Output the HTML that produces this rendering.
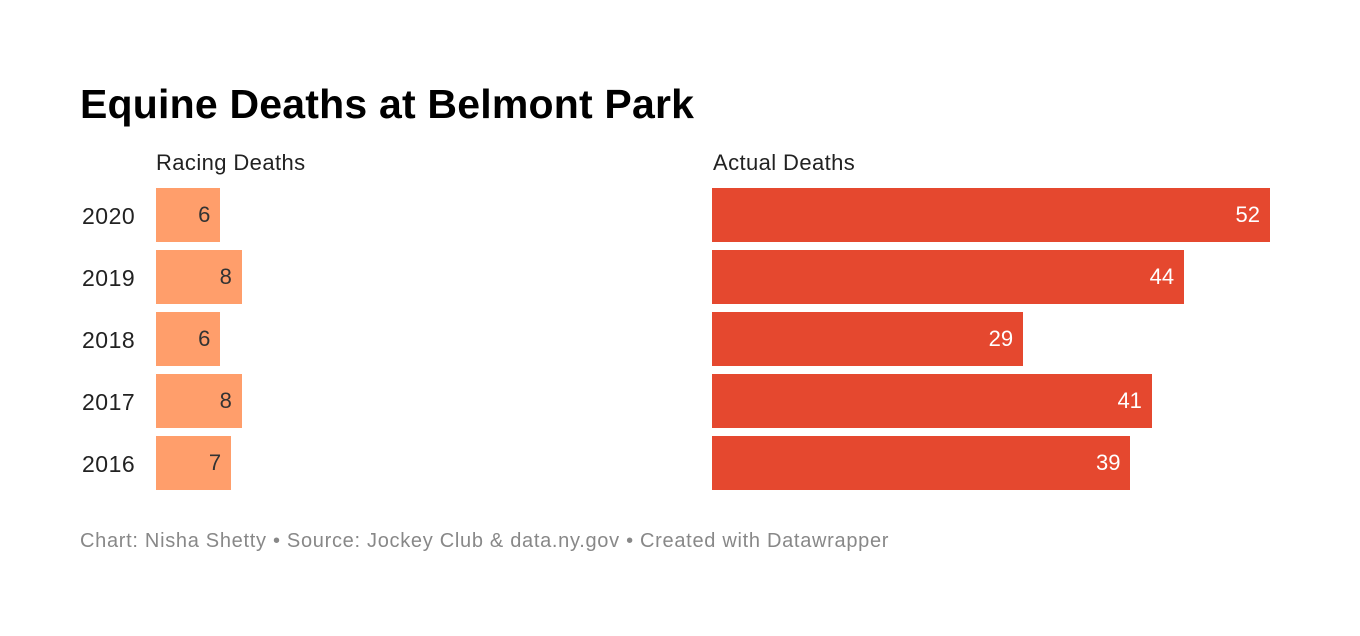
<!DOCTYPE html>
<html><head><meta charset="utf-8">
<style>
body{margin:0;width:1360px;height:636px;background:#fff;font-family:"Liberation Sans",sans-serif;position:relative;overflow:hidden}
.t{position:absolute;white-space:nowrap}
</style></head>
<body>
<div class="t" style="left:80px;top:81px;font-size:41px;font-weight:bold;color:#000;letter-spacing:0.2px">Equine Deaths at Belmont Park</div>
<div class="t" style="left:156px;top:150px;font-size:22px;color:#222;letter-spacing:0.4px">Racing Deaths</div>
<div class="t" style="left:713px;top:150px;font-size:22px;color:#222;letter-spacing:0.4px">Actual Deaths</div>
<div id="chart"></div>
<div class="t" style="left:80px;top:530px;font-size:20px;color:#888;letter-spacing:0.7px">Chart: Nisha Shetty • Source: Jockey Club &amp; data.ny.gov • Created with Datawrapper</div>
<script>
const years=["2020","2019","2018","2017","2016"];
const racing=[6,8,6,8,7];
const actual=[52,44,29,41,39];
const scale=10.73, rowTop=188, rowStep=62, barH=54;
const c=document.getElementById('chart');
function mk(style,text){const d=document.createElement('div');d.className='t';d.style.cssText=style;if(text!==undefined)d.textContent=text;c.appendChild(d);return d;}
years.forEach((y,i)=>{
  const top=rowTop+i*rowStep;
  const yl=mk(`left:82px;top:${top+13}px;font-size:23px;color:#222;line-height:30px;letter-spacing:0.5px`,y);
  
  
  const w1=racing[i]*scale;
  const b1=mk(`left:156px;top:${top}px;width:${w1}px;height:${barH}px;background:#ff9e6b;box-sizing:border-box;padding-right:10px;text-align:right;font-size:22px;line-height:${barH}px;color:#333`,racing[i]);
  
  
  const w2=actual[i]*scale;
  const b2=mk(`left:712px;top:${top}px;width:${w2}px;height:${barH}px;background:#e5482f;box-sizing:border-box;padding-right:10px;text-align:right;font-size:22px;line-height:${barH}px;color:#fff`,actual[i]);
  
  
});
</script>
</body></html>
